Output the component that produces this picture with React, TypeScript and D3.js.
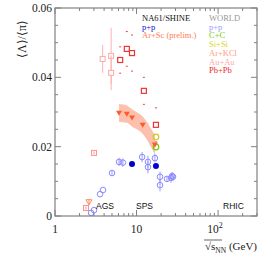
import React from 'react';
import * as d3 from 'd3';

// [sqrt(s_NN), <Lambda>/<pi>, stat err]
const worldPP: [number, number, number][] = [
  [2.77, 0.0009, 0], [3.01, 0.0017, 0], [3.57, 0.0063, 0], [3.88, 0.0075, 0],
  [5.0, 0.0124, 0.0006], [6.1, 0.0156, 0.0012], [6.8, 0.0154, 0.0012],
  [11.7, 0.017, 0.0015], [13.8, 0.0156, 0.0018], [13.8, 0.0141, 0.0018],
  [16.8, 0.0167, 0.0012], [19.4, 0.0113, 0.0015], [19.4, 0.0089, 0.0018],
  [23.6, 0.0107, 0.0008], [26.5, 0.011, 0.0014], [27.3, 0.0115, 0.0012], [28.0, 0.0113, 0.0012],
];
const na61PP: [number, number][] = [[8.8, 0.015], [17.3, 0.0144]];
const arScEnergy = [6.1, 7.6, 8.8, 11.9, 16.8];
const arScValue = [0.0297, 0.0294, 0.0283, 0.0262, 0.0205];
const arScSys = [0.0026, 0.0025, 0.0025, 0.0025, 0.0028];
const pbPb: [number, number, number][] = [
  [6.3, 0.045, 0.0038], [7.6, 0.0482, 0.005], [8.8, 0.047, 0.0052],
  [12.3, 0.0361, 0.0039], [17.3, 0.0263, 0.0049],
];
const auAu: [number, number, number][] = [
  [3.84, 0.0453, 0.004], [4.88, 0.0462, 0.0081], [4.88, 0.0413, 0.005],
];
const auAuLow: [number, number][] = [[2.4, 0.0023], [3.01, 0.0182]];
const arKCl: [number, number][] = [[2.61, 0.004]];
const ccData: [number, number][] = [[17.3, 0.0199]];
const siSiData: [number, number][] = [[17.3, 0.0228]];

const yTicks = [0, 0.02, 0.04, 0.06];
const yMinor = d3.range(0, 0.0601, 0.005);
const xMinor = [2, 3, 4, 5, 6, 7, 8, 9, 20, 30, 40, 50, 60, 70, 80, 90, 200, 300];

const na61Legend = [
  { label: 'NA61/SHINE', color: '#111' },
  { label: 'p+p', color: '#1010e0' },
  { label: 'Ar+Sc (prelim.)', color: '#ff7a50' },
];
const worldLegend = [
  { label: 'WORLD', color: '#999' },
  { label: 'p+p', color: '#9a9aff' },
  { label: 'C+C', color: '#77cc00' },
  { label: 'Si+Si', color: '#d8d820' },
  { label: 'Ar+KCl', color: '#ffa080' },
  { label: 'Au+Au', color: '#ffaaaa' },
  { label: 'Pb+Pb', color: '#ee2a2a' },
];

const W = 278, H = 270;
const L = 55, R = 257, T = 8, B = 216;

export default function App() {
  const x = d3.scaleLog().domain([1, 300]).range([L, R]);
  const y = d3.scaleLinear().domain([0, 0.06]).range([B, T]);
  const axisColor = '#808080';
  const serif = 'Liberation Serif, serif';
  const sans = 'Liberation Sans, sans-serif';

  const band = d3.area<number>()
    .x((_, i) => x(arScEnergy[i]))
    .y0((d, i) => y(d - arScSys[i]))
    .y1((d, i) => y(d + arScSys[i]))
    .curve(d3.curveMonotoneX);

  const tri = (cx: number, cy: number, s: number) =>
    `M${cx - s},${cy - s * 0.8}L${cx + s},${cy - s * 0.8}L${cx},${cy + s * 0.9}Z`;

  const square = (d: [number, number] | [number, number, number], color: string, key: string, w = 1) => (
    <rect key={key} x={x(d[0]) - 2.5} y={y(d[1]) - 2.5} width={5} height={5}
      fill="white" stroke={color} strokeWidth={w} />
  );

  return (
    <svg width={W} height={H} style={{ position: 'absolute', left: 0, top: 0 }}>
      <rect width={W} height={H} fill="white" />

      {/* Ar+Sc band */}
      <path d={band(arScValue) || ''} fill="#fcb9a4" opacity={0.9} />

      {/* Au+Au */}
      {auAu.map((d, i) => (
        <g key={'au' + i}>
          <line x1={x(d[0])} x2={x(d[0])} y1={y(d[1] - d[2])} y2={y(d[1] + d[2])} stroke="#ffb0b0" />
          {square(d, '#ffa8a8', 'aus' + i)}
        </g>
      ))}
      {auAuLow.map((d, i) => (
        <g key={'al' + i}>
          {square(d, '#ff9090', 'als' + i)}
          <line x1={x(d[0])} x2={x(d[0])} y1={y(d[1]) - 1.5} y2={y(d[1]) + 1.5} stroke="#ff9090" />
        </g>
      ))}

      {/* Pb+Pb */}
      {pbPb.map((d, i) => (
        <g key={'pb' + i}>
          <line x1={x(d[0]) - 1} x2={x(d[0]) + 1} y1={y(d[1] + d[2])} y2={y(d[1] + d[2])} stroke="#ee4444" />
          <line x1={x(d[0]) - 1} x2={x(d[0]) + 1} y1={y(d[1] - d[2])} y2={y(d[1] - d[2])} stroke="#ee4444" />
          {square(d, '#ee3535', 'pbs' + i, 1.2)}
        </g>
      ))}

      {/* Ar+KCl */}
      {arKCl.map((d, i) => (
        <g key={'ak' + i}>
          <line x1={x(d[0])} x2={x(d[0])} y1={y(d[1]) - 3} y2={y(d[1]) + 3} stroke="#ff8a60" />
          <path d={tri(x(d[0]), y(d[1]), 3)} fill="none" stroke="#ff8a60" strokeWidth={1} />
        </g>
      ))}

      {/* world p+p */}
      {worldPP.map((d, i) => (
        <g key={'wp' + i}>
          {d[2] > 0 && (
            <line x1={x(d[0])} x2={x(d[0])} y1={y(d[1] - d[2])} y2={y(d[1] + d[2])} stroke="#9a9aff" />
          )}
          <circle cx={x(d[0])} cy={y(d[1])} r={2.8} fill="none" stroke="#8a8aff" strokeWidth={1} />
        </g>
      ))}

      {/* C+C, Si+Si */}
      {siSiData.map((d, i) => (
        <circle key={'si' + i} cx={x(d[0])} cy={y(d[1])} r={2.8} fill="none" stroke="#cccc22" strokeWidth={1.2} />
      ))}
      {ccData.map((d, i) => (
        <circle key={'cc' + i} cx={x(d[0])} cy={y(d[1])} r={2.8} fill="none" stroke="#77cc00" strokeWidth={1.2} />
      ))}

      {/* Ar+Sc triangles */}
      {arScEnergy.map((e, i) => (
        <path key={'as' + i} d={tri(x(e), y(arScValue[i]), 3)} fill="#ff5a2a" />
      ))}

      {/* NA61 p+p */}
      {na61PP.map((d, i) => (
        <circle key={'np' + i} cx={x(d[0])} cy={y(d[1])} r={3} fill="#0000cc" />
      ))}

      {/* frame */}
      <rect x={L} y={T} width={R - L} height={B - T} fill="none" stroke={axisColor} strokeWidth={1.2} />
      {yMinor.map((v, i) => {
        const major = Math.abs(v / 0.02 - Math.round(v / 0.02)) < 1e-6;
        const len = major ? 6 : 3;
        return (
          <g key={'yt' + i} stroke={axisColor}>
            <line x1={L} x2={L + len} y1={y(v)} y2={y(v)} />
            <line x1={R} x2={R - len} y1={y(v)} y2={y(v)} />
          </g>
        );
      })}
      {[1, 10, 100].concat(xMinor).map((v, i) => {
        const len = i < 3 ? 6 : 3;
        return (
          <g key={'xt' + i} stroke={axisColor}>
            <line x1={x(v)} x2={x(v)} y1={B} y2={B - len} />
            <line x1={x(v)} x2={x(v)} y1={T} y2={T + len} />
          </g>
        );
      })}

      {/* tick labels */}
      {yTicks.map((v) => (
        <text key={'yl' + v} x={L - 3} y={y(v) + 4} textAnchor="end" fontFamily={serif} fontSize={11.5} fill="#222">
          {v === 0 ? '0' : v.toFixed(2)}
        </text>
      ))}
      <text x={x(1)} y={233} textAnchor="middle" fontFamily={serif} fontSize={11.5} fill="#222">1</text>
      <text x={x(10)} y={233} textAnchor="middle" fontFamily={serif} fontSize={11.5} fill="#222">10</text>
      <text x={x(100) - 3} y={233} textAnchor="middle" fontFamily={serif} fontSize={11.5} fill="#222">
        10<tspan dy={-5} fontSize={8}>2</tspan>
      </text>

      {/* axis titles */}
      <text transform={`translate(26,${T + 12}) rotate(-90)`} textAnchor="end" fontFamily={serif} fontSize={12} fill="#222">
        ⟨Λ⟩/⟨π⟩
      </text>
      <text x={R} y={250} textAnchor="end" fontFamily={serif} fontSize={11} fill="#222">
        √<tspan>s</tspan><tspan dy={3} fontSize={7.5}>NN</tspan><tspan dy={-3}> (GeV)</tspan>
      </text>
      <line x1={204} x2={222} y1={240} y2={240} stroke="#222" strokeWidth={0.7} />

      {/* region labels */}
      <text x={96} y={209} fontFamily={sans} fontSize={8.5} fill="#111">AGS</text>
      <text x={136} y={209} fontFamily={sans} fontSize={8.5} fill="#111">SPS</text>
      <text x={223} y={209} fontFamily={sans} fontSize={8.5} fill="#111">RHIC</text>

      {/* legends */}
      {na61Legend.map((d, i) => (
        <text key={'nl' + i} x={142} y={21 + i * 8.7} fontFamily={serif} fontSize={8.5} fill={d.color}>{d.label}</text>
      ))}
      {worldLegend.map((d, i) => (
        <text key={'wl' + i} x={209} y={21 + i * 8.7} fontFamily={serif} fontSize={8.5} fill={d.color}>{d.label}</text>
      ))}
    </svg>
  );
}
